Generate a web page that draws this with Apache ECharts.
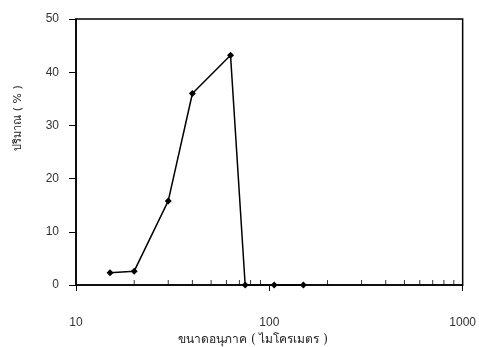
<!DOCTYPE html>
<html>
<head>
<meta charset="utf-8">
<script src="https://cdn.jsdelivr.net/npm/echarts@6/dist/echarts.min.js"></script>
<style>
html,body{margin:0;padding:0;background:#fff;}
#c{width:479px;height:347px;}
</style>
</head>
<body>
<div id="c"></div>
<script>
// Data
var sizes = [15, 20, 30, 40, 63, 75, 106, 150];          // particle size (micrometres)
var amounts = [2.3, 2.6, 15.8, 36.0, 43.2, 0, 0, 0];     // amount (%)
var minorTickValues = [20,30,40,50,60,70,80,90,200,300,400,500,600,700,800,900];
var yTicks = [0, 10, 20, 30, 40, 50];
var xTitle = 'ขนาดอนุภาค ( ไมโครเมตร )';
var yTitle = 'ปริมาณ ( % )';

var chart = echarts.init(document.getElementById('c'), null, {renderer:'canvas'});
var lineData = sizes.map(function(s,i){return [s, amounts[i]];});
var minorData = minorTickValues.map(function(v){return [v, 0];});

chart.setOption({
  animation:false,
  backgroundColor:'#fff',
  graphic:[
    {type:'text', x:253, y:340, silent:true,
     style:{text:xTitle, font:'12px "DejaVu Serif", serif', fill:'#222', align:'center', verticalAlign:'middle'}},
    {type:'text', x:18, y:118, rotation:Math.PI/2, silent:true,
     style:{text:yTitle, font:'11px "DejaVu Sans", sans-serif', fill:'#222', align:'center', verticalAlign:'middle'}}
  ],
  grid:{left:76, right:16, top:19, bottom:62, show:true, borderColor:'#000', borderWidth:1.5, backgroundColor:'transparent'},
  xAxis:{
    type:'log', logBase:10, min:10, max:1000,
    axisLine:{lineStyle:{color:'#000', width:1.5}},
    axisTick:{show:true, length:6, lineStyle:{color:'#000', width:1}},
    axisLabel:{margin:32, color:'#333', fontSize:12, fontFamily:'"Liberation Sans", Arial, sans-serif',
      formatter:function(v){return String(Math.round(v));}},
    splitLine:{show:false}
  },
  yAxis:{
    type:'value', min:0, max:50, interval:10,
    axisLine:{show:true, lineStyle:{color:'#000', width:1.5}},
    axisTick:{show:true, length:7, lineStyle:{color:'#000', width:1}},
    axisLabel:{margin:17, color:'#333', fontSize:12, fontFamily:'"Liberation Sans", Arial, sans-serif'},
    splitLine:{show:false}
  },
  series:[
    {type:'scatter', data:minorData, symbol:'rect', symbolSize:[1,5], symbolOffset:[0,-2.5],
     itemStyle:{color:'#000'}, silent:true, z:1},
    {type:'line', data:lineData, symbol:'diamond', symbolSize:7,
     lineStyle:{color:'#000', width:1.5}, itemStyle:{color:'#000'}, z:3, clip:false}
  ]
});
</script>
</body>
</html>
